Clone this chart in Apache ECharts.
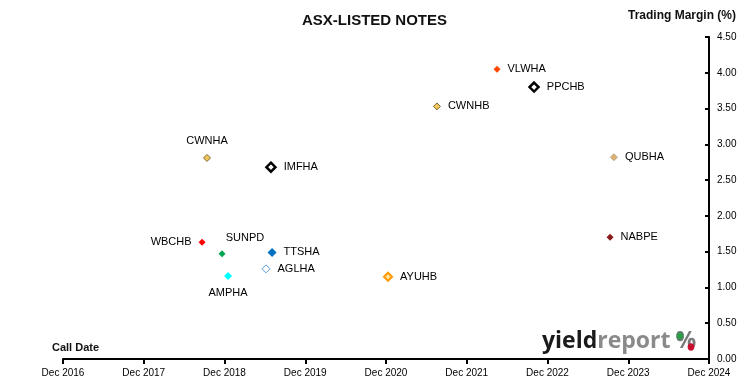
<!DOCTYPE html>
<html><head><meta charset="utf-8">
<script src="https://cdn.jsdelivr.net/npm/echarts@6/dist/echarts.min.js"></script>
<style>html,body{margin:0;padding:0;background:#fff}#c{width:750px;height:391px}</style>
</head><body><div id="c"></div>
<script>
const names = ['CWNHA','IMFHA','WBCHB','SUNPD','TTSHA','AGLHA','AMPHA','AYUHB','CWNHB','VLWHA','PPCHB','QUBHA','NABPE'];
const callDates = ['2018-09-13','2019-06-28','2018-08-21','2018-11-20','2019-07-03','2019-06-06','2018-12-17','2020-12-10','2021-07-18','2022-04-16','2022-10-01','2023-09-27','2023-09-10'];
const margins = [2.81, 2.68, 1.63, 1.47, 1.49, 1.26, 1.16, 1.15, 3.53, 4.05, 3.80, 2.82, 1.70];
const xTickYears = [2016,2017,2018,2019,2020,2021,2022,2023,2024];
const yTicks = [0,0.5,1,1.5,2,2.5,3,3.5,4,4.5];

const styles = {
  CWNHA:{fill:'#F2C75C',border:'#7a6530',bw:1,size:7,pos:'top'},
  IMFHA:{fill:'#ffffff',border:'#000000',bw:2.5,size:9,pos:'right'},
  WBCHB:{fill:'#FF0000',border:'#FF0000',bw:0,size:7,pos:'left'},
  SUNPD:{fill:'#00A651',border:'#00A651',bw:0,size:7,pos:'top',offset:[23,0]},
  TTSHA:{fill:'#0070C0',border:'#0070C0',bw:0,size:9,pos:'right'},
  AGLHA:{fill:'#ffffff',border:'#5B9BD5',bw:1,size:8,pos:'right'},
  AMPHA:{fill:'#00FFFF',border:'#00E0E0',bw:0,size:8,pos:'bottom'},
  AYUHB:{fill:'#FFE9A0',border:'#FF9900',bw:2,size:8,pos:'right'},
  CWNHB:{fill:'#F2C75C',border:'#7a6530',bw:1,size:7,pos:'right'},
  VLWHA:{fill:'#FF4500',border:'#FF4500',bw:0,size:7,pos:'right'},
  PPCHB:{fill:'#ffffff',border:'#000000',bw:2.5,size:9,pos:'right'},
  QUBHA:{fill:'#E0B070',border:'#B8A890',bw:1,size:7,pos:'right'},
  NABPE:{fill:'#8B1A1A',border:'#6b0f0f',bw:0,size:7,pos:'right'}
};

function monthsSinceDec2016(s){
  const [y,m,d] = s.split('-').map(Number);
  return (y-2016)*12 + (m-12) + (d-1)/30;
}

const series = names.map((n,i)=>{
  const st = styles[n];
  return {
    type:'scatter', name:n, symbol:'diamond', symbolSize:st.size,
    itemStyle:{color:st.fill, borderColor:st.border, borderWidth:st.bw, opacity:1},
    label:{show:true, formatter:n, position:st.pos, distance:7, offset:st.offset||[0,0],
      fontFamily:'Liberation Sans', fontSize:11, color:'#000', opacity:1},
    data:[[monthsSinceDec2016(callDates[i]), margins[i]]]
  };
});

const chart = echarts.init(document.getElementById('c'));
chart.setOption({
  animation:false,
  grid:{left:63,right:41,top:37,bottom:32,containLabel:false},
  xAxis:{type:'value',min:0,max:96,interval:12,
    axisLine:{show:true,onZero:false,lineStyle:{color:'#000',width:2}},
    axisTick:{show:true,inside:false,length:5,lineStyle:{color:'#000',width:2}},
    axisLabel:{formatter:v=>'Dec '+xTickYears[Math.round(v/12)],fontFamily:'Liberation Sans',fontSize:10,color:'#000',margin:9},
    splitLine:{show:false}},
  yAxis:{type:'value',position:'right',min:0,max:4.5,interval:0.5,
    axisLine:{show:true,onZero:false,lineStyle:{color:'#000',width:2}},
    axisTick:{show:true,inside:true,length:4,lineStyle:{color:'#000',width:2}},
    axisLabel:{formatter:v=>yTicks[Math.round(v*2)].toFixed(2),fontFamily:'Liberation Sans',fontSize:10,color:'#000',margin:8},
    splitLine:{show:false}},
  graphic:[
    {type:'text',left:302,top:13,style:{text:'ASX-LISTED NOTES',font:'bold 15px "Liberation Sans"',fill:'#111'}},
    {type:'text',left:628,top:10,style:{text:'Trading Margin (%)',font:'bold 12px "Liberation Sans"',fill:'#111'}},
    {type:'text',left:52,top:342,style:{text:'Call Date',font:'bold 11px "Liberation Sans"',fill:'#111'}},
    {type:'text',left:542,top:330,style:{rich:{
       a:{font:'bold 23px "Open Sans"',fill:'#1a1a1a'},
       b:{font:'bold 23px "Open Sans"',fill:'#8a8a8a'},
       c:{font:'bold 23px "Open Sans"',fill:'#7a7a7a',padding:[0,0,0,5]}},
       text:'{a|yield}{b|report}{c|%}'}},
    {type:'ellipse',shape:{cx:680,cy:336,rx:3.4,ry:3.8},style:{fill:'#2e9a4a'}},
    {type:'ellipse',shape:{cx:691,cy:347,rx:3.4,ry:3.8},style:{fill:'#c8102e'}}
  ],
  series:series
});
</script></body></html>
